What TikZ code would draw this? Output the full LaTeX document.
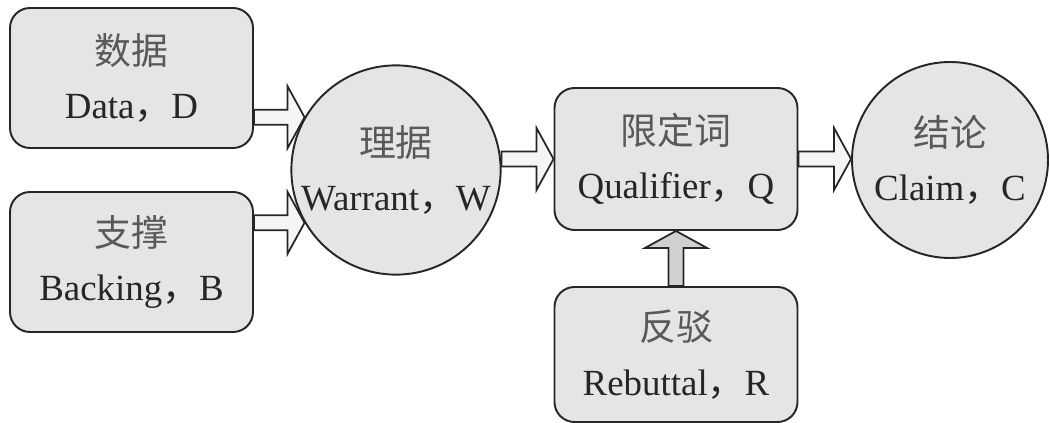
\documentclass[tikz,border=0pt]{standalone}
\usepackage{fontspec}
\setmainfont{Liberation Serif}
\newfontfamily\zhfont{Noto Sans CJK SC}
\usetikzlibrary{calc}

\newcommand{\zh}[1]{{\zhfont\color{black!65}#1}}
\newcommand{\zhcomma}{{\zhfont ，}}

% hollow block arrow from #2 to #3
\newcommand{\fatarrow}[3][]{%
  \coordinate (hb) at ($(#3)!0.34cm!(#2)$);
  \draw[fatarrow,#1]
    ($(#2)!0.15cm!90:(#3)$) -- ($(hb)!0.15cm!90:(#3)$)
    -- ($(hb)!0.62cm!90:(#3)$) -- (#3)
    -- ($(hb)!0.62cm!-90:(#3)$) -- ($(hb)!0.15cm!-90:(#3)$)
    -- ($(#2)!0.15cm!-90:(#3)$) -- cycle;
}

\tikzset{
  box/.style={draw=black!85, line width=1.1pt, rounded corners=0.4cm,
    fill=black!10, minimum width=4.86cm, minimum height=2.8cm,
    align=center, text=black!85, font=\fontsize{21}{31}\selectfont},
  ball/.style={circle, draw=black!85, line width=1.1pt, fill=black!10,
    inner sep=0pt, align=center, text=black!85,
    font=\fontsize{21}{31}\selectfont},
  fatarrow/.style={draw=black!85, line width=1pt, fill=black!4,
    line join=miter},
}

\begin{document}
\begin{tikzpicture}
    \useasboundingbox (0,0) rectangle (21,-8.46);

    % Left column
    \node[box] (data) at (2.63,-1.56) {\zh{数据}\\Data\zhcomma D};
    \node[box] (back) at (2.63,-5.24) {\zh{支撑}\\Backing\zhcomma B};

    % Warrant
    \node[ball, minimum size=4.08cm] (warr) at (7.92,-3.4)
        {\zh{理据}\\Warrant\zhcomma W};

    % Qualifier and rebuttal
    \node[box, minimum height=2.84cm] (qual) at (13.52,-3.18)
        {\zh{限定词}\\Qualifier\zhcomma Q};
    \node[box, minimum height=2.7cm] (rebu) at (13.52,-7.09)
        {\zh{反驳}\\Rebuttal\zhcomma R};

    % Claim
    \node[ball, minimum size=3.92cm] (clai) at (19.0,-3.2)
        {\zh{结论}\\Claim\zhcomma C};

    % Arrows
    \fatarrow{data.east |- warr.150}{warr.150}
    \fatarrow{back.east |- warr.210}{warr.210}
    \fatarrow{warr.east |- qual.west}{qual.west}
    \fatarrow{qual.east}{clai.west |- qual.east}
    \fatarrow[fill=black!18]{rebu.north}{qual.south}

\end{tikzpicture}
\end{document}
